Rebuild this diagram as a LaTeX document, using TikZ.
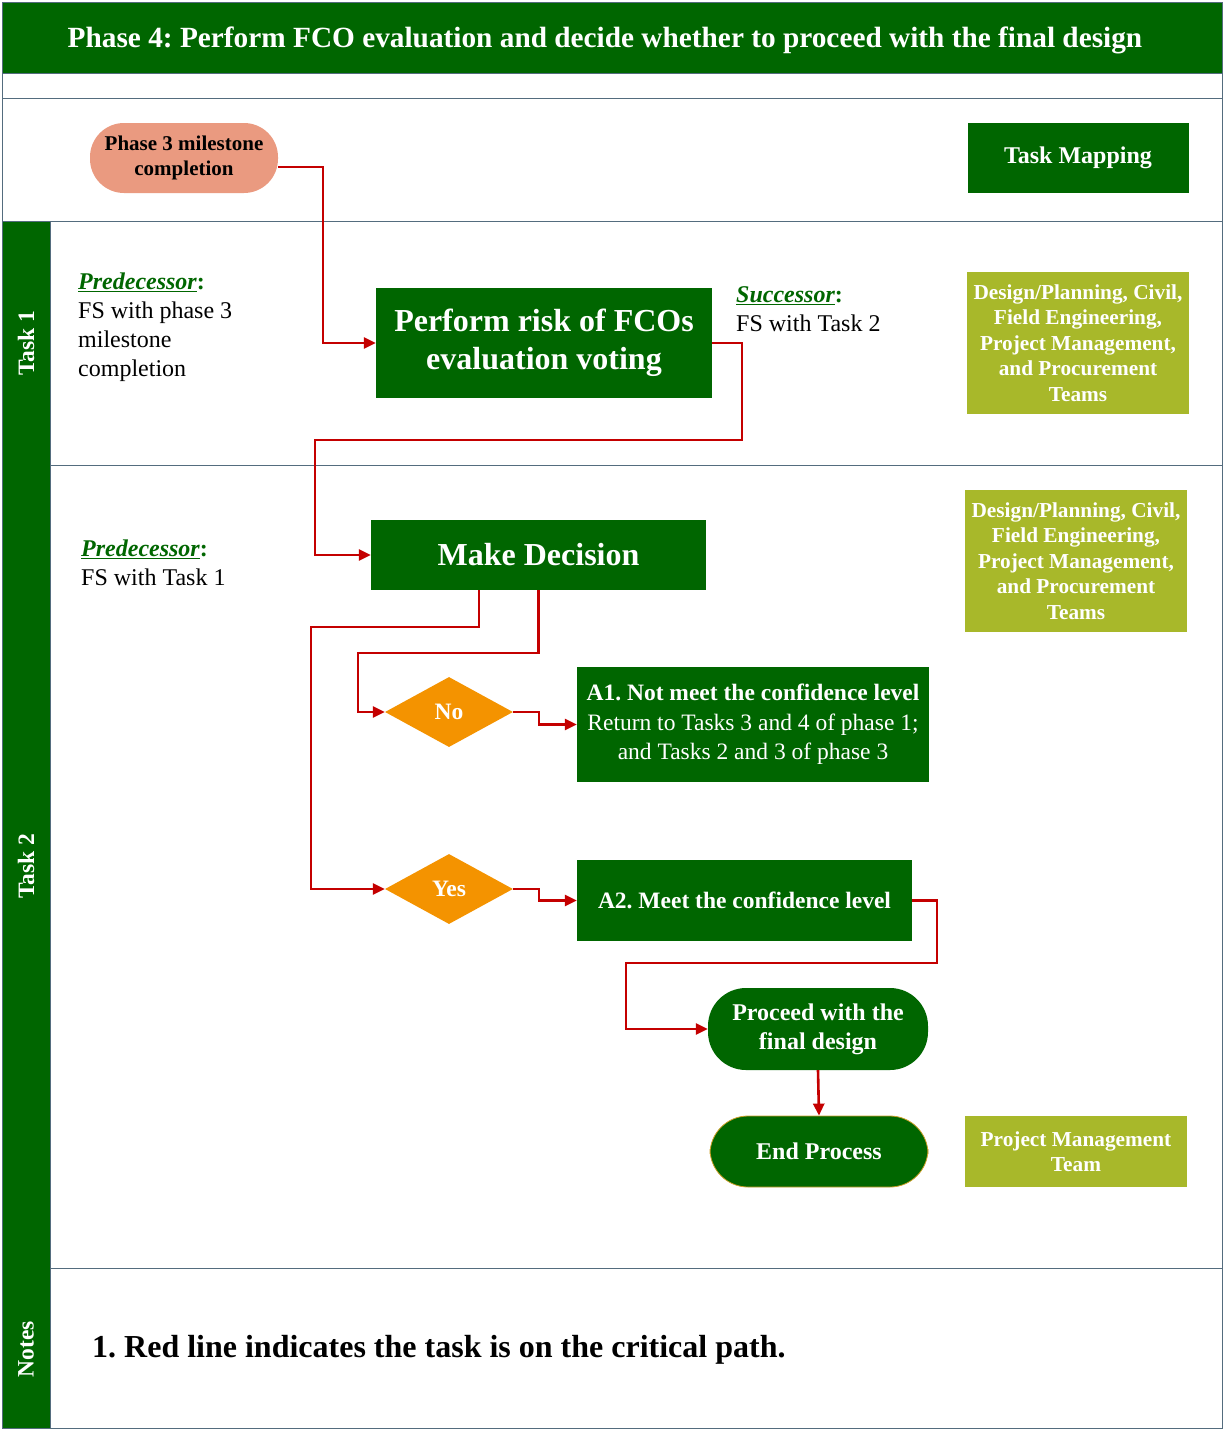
\documentclass[tikz,border=0pt]{standalone}
\usepackage{fontspec}
\setmainfont{Liberation Serif}
\usetikzlibrary{arrows.meta,shapes.geometric}
\definecolor{dgreen}{RGB}{0,102,0}
\definecolor{olive}{RGB}{168,184,42}
\definecolor{salmon}{RGB}{234,154,128}
\definecolor{dorange}{RGB}{244,147,0}
\definecolor{cred}{RGB}{196,0,0}
\definecolor{frame}{RGB}{84,108,126}
\definecolor{gold}{RGB}{205,160,40}
\newcommand{\fs}[2]{\fontsize{#1}{#2}\selectfont}
\frenchspacing
\begin{document}
\begin{tikzpicture}[x=1pt,y=-1pt,
  gbox/.style={fill=dgreen, text=white, inner sep=0pt, align=center},
  team/.style={fill=olive, text=white, inner sep=0pt, align=center,
    font=\fs{21.3}{25.5}\bfseries, minimum width=222pt},
  pill/.style={gbox, rounded corners=38pt},
  dia/.style={diamond, fill=dorange, text=white, inner sep=0pt,
    minimum width=128pt, minimum height=70pt, font=\fs{23.5}{26}\bfseries},
  lane/.style={text=white, rotate=90, font=\fs{23.5}{26}\bfseries},
  sep/.style={draw=frame, line width=1pt},
  plain/.style={align=left, anchor=north west, inner sep=0pt, font=\fs{24}{29}},
  flow/.style={draw=cred, line width=2.6pt,
    -{Triangle[length=12pt,width=11pt]}}]
\useasboundingbox (0,0) rectangle (1225,1430);

% title band and swimlane frame
\fill[dgreen] (2,2) rectangle (1222,73);
\fill[dgreen] (2,221) rectangle (50,1428);
\draw[sep] (2,2) rectangle (1222,1428);
\draw[sep] (2,73) -- (1222,73);
\draw[sep] (2,98) -- (1222,98);
\draw[sep] (2,221) -- (1222,221);
\draw[sep] (50,465) -- (1222,465);
\draw[sep] (50,1268) -- (1222,1268);
\draw[sep] (50,221) -- (50,1428);

\node[text=white, font=\fs{29.3}{32}\bfseries] (title) at (605,40)
  {Phase 4: Perform FCO evaluation and decide whether to proceed with the final design};

\node[lane] (l1) at (26,343) {Task 1};
\node[lane] (l2) at (26,866) {Task 2};
\node[lane] (l3) at (26,1349) {Notes};

% header row
\node[fill=salmon, rounded corners=34pt, minimum width=188pt, minimum height=70pt,
  inner sep=0pt, align=center, font=\fs{21}{25}\bfseries] (p3) at (184,158)
  {Phase 3 milestone\\completion};
\node[gbox, minimum width=221pt, minimum height=70pt, font=\fs{24}{27}\bfseries]
  (map) at (1078,158) {Task Mapping};

% task 1
\node[plain] (pre1) at (78,273)
  {{\color{dgreen}\bfseries\underline{\itshape Predecessor}:}\\FS with phase 3\\milestone\\completion};
\node[gbox, minimum width=336pt, minimum height=110pt, font=\fs{32}{39}\bfseries]
  (risk) at (544,343) {\raisebox{-3pt}{\begin{tabular}{@{}c@{}}Perform risk of FCOs\\[-1pt]evaluation voting\end{tabular}}};
\node[plain] (suc1) at (736,286)
  {{\color{dgreen}\bfseries\underline{\itshape Successor}:}\\FS with Task 2};
\node[team, minimum height=142pt] (t1) at (1078,343)
  {Design/Planning, Civil,\\Field Engineering,\\Project Management,\\and Procurement\\Teams};

% task 2
\node[plain] (pre2) at (81,540)
  {{\color{dgreen}\bfseries\underline{\itshape Predecessor}:}\\FS with Task 1};
\node[gbox, minimum width=335pt, minimum height=70pt, font=\fs{32}{36}\bfseries]
  (dec) at (538.5,555) {Make Decision};
\node[team, minimum height=142pt] (t2) at (1076,561)
  {Design/Planning, Civil,\\Field Engineering,\\Project Management,\\and Procurement\\Teams};
\node[dia] (no) at (449,712) {No};
\node[gbox, minimum width=352pt, minimum height=115pt, font=\fs{23.5}{29.5}]
  (a1) at (753,724.5)
  {\textbf{A1. Not meet the confidence level}\\Return to Tasks 3 and 4 of phase 1;\\and Tasks 2 and 3 of phase 3};
\node[dia] (yes) at (449,889) {Yes};
\node[gbox, minimum width=335pt, minimum height=81pt, font=\fs{23.5}{26}\bfseries]
  (a2) at (744.5,900.5) {A2. Meet the confidence level};
\node[pill, minimum width=220pt, minimum height=82pt, font=\fs{24}{29}\bfseries]
  (go) at (818,1029) {Proceed with the\\final design};
\node[pill, draw=gold, line width=0.8pt, minimum width=218pt, minimum height=71pt,
  font=\fs{24}{27}\bfseries] (end) at (819,1151.5) {End Process};
\node[team, minimum height=71pt] (t3) at (1076,1151.5) {Project Management\\Team};

% notes
\node[anchor=west, inner sep=0pt, font=\fs{32}{35}\bfseries] (note) at (92,1350)
  {1. Red line indicates the task is on the critical path.};

% critical path connectors
\draw[flow] ([yshift=-9pt]p3.east) -- (323,167) -- (323,343) -- (risk.west);
\draw[flow] (risk.east) -- (742,343) -- (742,440) -- (315,440) -- (315,555) -- (dec.west);
\draw[flow] (dec.south) -- (538.5,653) -- (358,653) -- (358,712) -- (no.west);
\draw[flow] ([xshift=-59.5pt]dec.south) -- (479,627) -- (311,627) -- (311,889) -- (yes.west);
\draw[flow] (no.east) -- (539,712) -- (539,724.5) -- (a1.west);
\draw[flow] (yes.east) -- (539,889) -- (539,900.5) -- (a2.west);
\draw[flow] (a2.east) -- (937,900.5) -- (937,963) -- (626,963) -- (626,1029) -- (go.west);
\draw[flow] (go.south) -- (end.north);
\end{tikzpicture}
\end{document}
